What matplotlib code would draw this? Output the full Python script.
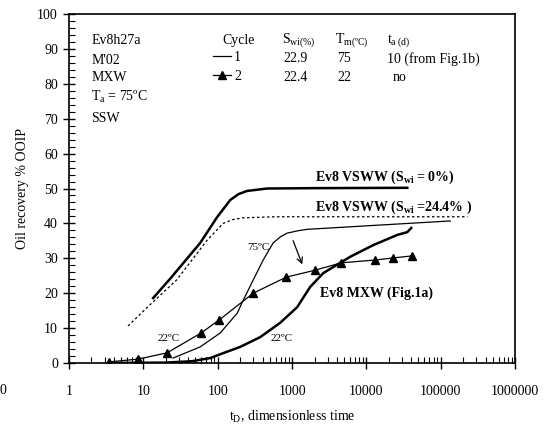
import matplotlib
matplotlib.use('Agg')
import matplotlib.pyplot as plt
from matplotlib.ticker import FixedLocator, NullFormatter
import numpy as np

plt.rcParams['font.family'] = 'Liberation Serif'
plt.rcParams['mathtext.fontset'] = 'custom'
plt.rcParams['mathtext.rm'] = 'Liberation Serif'
plt.rcParams['mathtext.it'] = 'Liberation Serif:italic'
plt.rcParams['mathtext.bf'] = 'Liberation Serif:bold'
plt.rcParams['font.size'] = 10

#%% data (t_D, oil recovery % OOIP)
# Ev8 VSWW, Swi = 0%
vsww0_t = [13.5, 23, 58, 98, 147, 190, 248, 462, 2000, 35400]
vsww0_r = [18.6, 24.2, 34.4, 41.8, 46.7, 48.4, 49.3, 50.0, 50.1, 50.2]
# Ev8 VSWW, Swi = 24.4%
vsww24_t = [6.2, 12, 28, 72, 118, 160, 220, 600, 10000, 228000]
vsww24_r = [10.6, 16.5, 23.8, 35.2, 40.0, 41.1, 41.6, 41.9, 41.9, 41.9]
# cycle 1 (75 C aged)
cyc1_t = [25, 58, 108, 183, 220, 300, 408, 556, 700, 855, 1200, 1600, 10000, 134000]
cyc1_r = [1.4, 4.6, 8.6, 14.3, 18.0, 23.8, 29.5, 34.4, 36.2, 37.2, 37.9, 38.3, 39.3, 40.7]
# cycle 2 (22 C, measured points)
cyc2_t = [3.45, 8.5, 20.8, 59.8, 104, 300, 835, 2050, 4580, 13100, 23000, 41400]
cyc2_r = [0.3, 1.1, 2.9, 8.6, 12.3, 20.0, 24.6, 26.6, 28.7, 29.5, 30.1, 30.7]
# Ev8 MXW (Fig.1a)
mxw_t = [3.4, 20, 45, 79, 108, 200, 372, 690, 1170, 1750, 2640, 4440, 6000, 12400, 26000, 35400, 40000]
mxw_r = [0.0, 0.1, 0.5, 1.4, 2.5, 4.6, 7.4, 11.5, 16.0, 21.8, 25.8, 28.7, 30.4, 33.8, 36.7, 37.5, 38.7]

xticks = [1, 10, 100, 1000, 10000, 100000, 1000000]
xticklabels = ['1', '10', '100', '1000', '10000', '100000', '1000000']
yticks = list(range(0, 101, 10))

# table of experiment conditions
table_cols = ['Cycle', r'S$_{\rm wi(\%)}$', r'T$_{\rm m(ºC)}$', r't$_{\rm a\ (d)}$']
swi = ['22.9', '22.4']
tm = ['75', '22']
ta = ['10 (from Fig.1b)', 'no']

#%% plot
fig = plt.figure(figsize=(5.44, 4.26), dpi=100)
ax = fig.add_axes([0.127, 0.148, 0.820, 0.819])

ax.plot(vsww0_t, vsww0_r, color='k', lw=1.8)
ax.plot(vsww24_t, vsww24_r, color='k', lw=0.9, dashes=(2, 2))
l1, = ax.plot(cyc1_t, cyc1_r, color='k', lw=0.9)
l2, = ax.plot(cyc2_t, cyc2_r, color='k', lw=0.9, marker='^', ms=6)
ax.plot(mxw_t, mxw_r, color='k', lw=1.8)

ax.set_xscale('log')
ax.set_xlim(1, 1e6)
ax.set_ylim(0, 100)
ax.xaxis.set_major_locator(FixedLocator(xticks))
ax.set_xticklabels(xticklabels)
ax.xaxis.set_minor_locator(FixedLocator([m * d for d in xticks[:-1] for m in range(2, 10)]))
ax.xaxis.set_minor_formatter(NullFormatter())
ax.set_yticks(yticks)
ax.yaxis.set_minor_locator(FixedLocator(np.arange(0, 101, 2)))
ax.tick_params(which='major', direction='inout', length=8, width=1, labelsize=10)
ax.tick_params(axis='x', which='major', pad=12)
ax.tick_params(axis='y', which='major', pad=4)
ax.tick_params(which='minor', direction='in', length=4, width=0.8)
for s in ax.spines.values():
    s.set_linewidth(1.2)

ax.set_xlabel(r't$_{\rm D}$, dimensionless time', fontsize=10, labelpad=8)
ax.set_ylabel('Oil recovery % OOIP', fontsize=10, labelpad=6)

# sample description
for txt, y in zip(['Ev8h27a', "M'02", 'MXW', r'T$_{\rm a}$ = 75ºC', 'SSW'],
                  [92.5, 86.8, 81.7, 76.2, 70.2]):
    ax.text(1.98, y, txt, ha='left', va='center', fontsize=10)

# conditions table
for txt, x in zip(table_cols, [115, 736, 3800, 19000]):
    ax.text(x, 92.5, txt, ha='left', va='center', fontsize=10)
for row, y in enumerate([87.2, 81.8]):
    ax.text(760, y, swi[row], ha='left', va='center', fontsize=10)
    ax.text(4050, y, tm[row], ha='left', va='center', fontsize=10)
    ax.text(19000 if row == 0 else 22200, y, ta[row], ha='left', va='center', fontsize=10)
ax.legend([l1, l2], ['1', '2'], loc='upper left', bbox_to_anchor=(0.323, 0.895),
          frameon=False, borderpad=0, borderaxespad=0, handlelength=1.3,
          handletextpad=0.2, labelspacing=0.45, numpoints=1, fontsize=10)

# curve labels
ax.text(2050, 53.3, r'Ev8 VSWW (S$_{\mathbf{wi}}$ = 0%)', fontsize=10, fontweight='bold', va='center')
ax.text(2050, 44.7, r'Ev8 VSWW (S$_{\mathbf{wi}}$ =24.4% )', fontsize=10, fontweight='bold', va='center')
ax.text(2390, 20.0, 'Ev8 MXW (Fig.1a)', fontsize=10, fontweight='bold', va='center')
ax.text(249, 33.2, '75ºC', fontsize=8, va='center')
ax.text(15.3, 6.9, '22ºC', fontsize=8, va='center')
ax.text(507, 7.1, '22ºC', fontsize=8, va='center')
ax.annotate('', xy=(1410, 27.5), xytext=(1000, 35.8),
            arrowprops=dict(arrowstyle='->', color='k', lw=0.9))

fig.text(6 / 544, 1 - 390 / 426, '0', ha='right', va='center', fontsize=10)

fig.savefig('out.png', dpi=100)
